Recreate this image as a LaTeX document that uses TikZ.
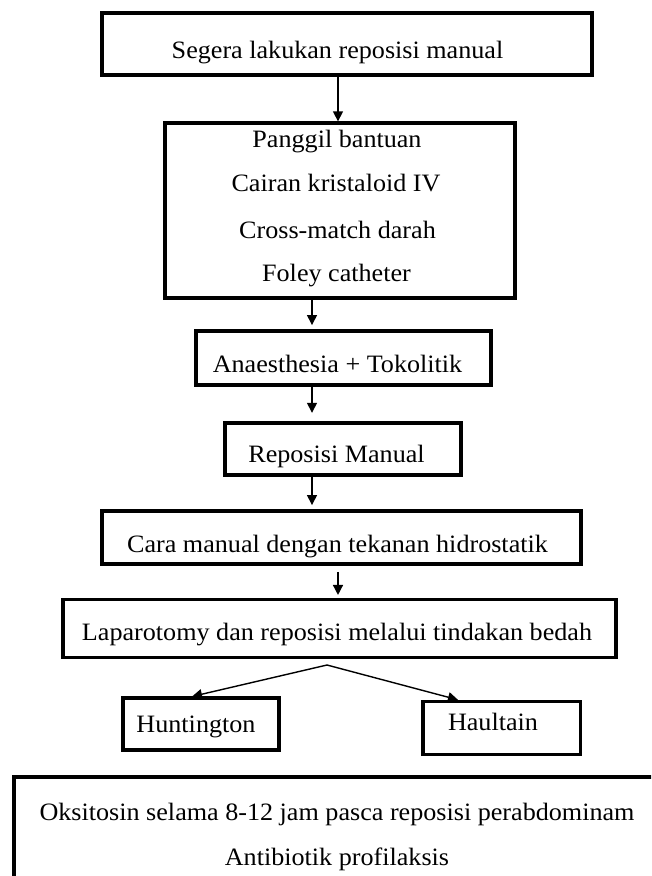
\documentclass[tikz,border=0pt]{standalone}
\usepackage{fontspec}
\setmainfont[FakeStretch=1.045]{Liberation Serif}
\usetikzlibrary{arrows.meta}
\begin{document}
\begin{tikzpicture}[x=1pt,y=-1pt,
  box/.style={draw, line width=3.9pt, inner sep=0pt, fill=none},
  txt/.style={inner sep=0pt, anchor=base, font=\fontsize{25}{29}\selectfont},
  arr/.style={line width=1.4pt, -{Triangle[length=10pt,width=10pt]}}]
\useasboundingbox (0,0) rectangle (651,876);
\begin{scope}
\clip (0,0) rectangle (651,876);
% boxes
\node[box, minimum width=490pt, minimum height=62pt] (b1) at (346.6,43.9) {};
\node[box, minimum width=350pt, minimum height=175pt] (b2) at (340,210.8) {};
\node[box, minimum width=295pt, minimum height=54pt] (b3) at (343.5,358) {};
\node[box, minimum width=236pt, minimum height=52.5pt] (b4) at (342.6,449) {};
\node[box, minimum width=479pt, minimum height=53pt] (b5) at (341.5,537.5) {};
\node[box, minimum width=553pt, minimum height=58pt] (b6) at (339.5,628.5) {};
\node[box, minimum width=156pt, minimum height=52.5pt] (hunt) at (201,724) {};
\node[box, minimum width=157.5pt, minimum height=53pt] (haul) at (501.7,728) {};
\node[box, minimum width=652pt, minimum height=126pt] (b7) at (340,840) {};
% texts
\node[txt] (t1) at (337.5,58) {Segera lakukan reposisi manual};
\node[txt] (t2a) at (337,147.3) {Panggil bantuan};
\node[txt] (t2b) at (336,191.7) {Cairan kristaloid IV};
\node[txt] (t2c) at (337.5,238.3) {Cross-match darah};
\node[txt] (t2d) at (336.5,281.7) {Foley catheter};
\node[txt] (t3) at (337.5,372) {Anaesthesia + Tokolitik};
\node[txt] (t4) at (336.5,462) {Reposisi Manual};
\node[txt] (t5) at (337.5,552) {Cara manual dengan tekanan hidrostatik};
\node[txt] (t6) at (337,640) {Laparotomy dan reposisi melalui tindakan bedah};
\node[txt] (th) at (196,732) {Huntington};
\node[txt] (tl) at (493,730) {Haultain};
\node[txt] (t7a) at (337,820) {Oksitosin selama 8-12 jam pasca reposisi perabdominam};
\node[txt] (t7b) at (337,865) {Antibiotik profilaksis};
% connectors
\coordinate (ax1) at (338,0);
\coordinate (ax2) at (312,0);
\draw[arr] (b1.south -| ax1) -- (b2.north -| ax1);
\draw[arr, shorten >=4pt] (b2.south -| ax2) -- (b3.north -| ax2);
\draw[arr, shorten >=8pt] (b3.south -| ax2) -- (b4.north -| ax2);
\draw[arr, shorten >=4pt] (b4.south -| ax2) -- (b5.north -| ax2);
\draw[arr, shorten <=6pt, shorten >=2.6pt] (b5.south -| ax1) -- (b6.north -| ax1);
\coordinate (apex) at (327,665);
\coordinate (hl) at (195,0);
\coordinate (hr) at (457,0);
\draw[arr, shorten >=-3pt] (apex) -- (hunt.north -| hl);
\draw[arr, shorten >=-1pt] (apex) -- (haul.north -| hr);
\end{scope}
\end{tikzpicture}
\end{document}
